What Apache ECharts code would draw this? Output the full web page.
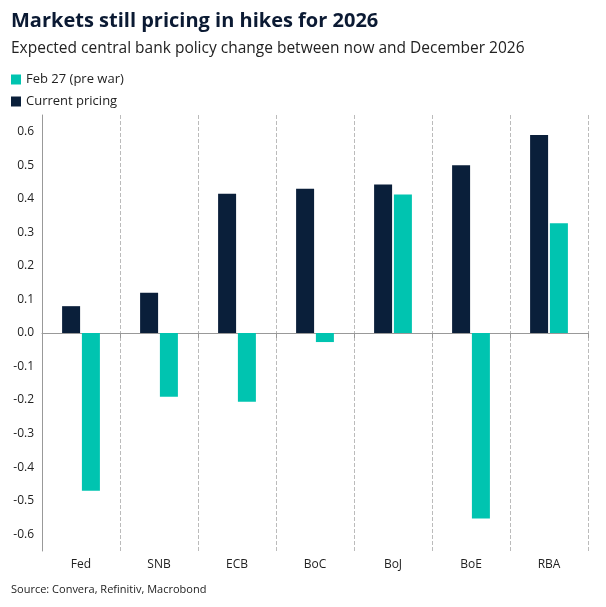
<!DOCTYPE html>
<html><head><meta charset="utf-8">
<script src="https://cdn.jsdelivr.net/npm/echarts@6/dist/echarts.min.js"></script>
<style>html,body{margin:0;padding:0;background:#fff}#c{width:606px;height:607px}</style>
</head><body><div id="c"></div>
<script>
const categories = ['Fed','SNB','ECB','BoC','BoJ','BoE','RBA'];
const currentPricing = [0.08,0.12,0.415,0.43,0.443,0.50,0.59];
const preWar = [-0.47,-0.19,-0.205,-0.027,0.413,-0.553,0.327];
const chart = echarts.init(document.getElementById('c'));
const font = "'Open Sans', 'Noto Sans', sans-serif";
chart.setOption({
  animation:false,
  textStyle:{fontFamily:font},
  title:[
    {text:'Markets still pricing in hikes for 2026',left:6,top:6,textStyle:{fontSize:20,fontWeight:'bold',color:'#0b1a33',fontFamily:font}},
    {text:'Expected central bank policy change between now and December 2026',left:6,top:36,textStyle:{fontSize:15.5,fontWeight:'normal',color:'#222',fontFamily:font}},
    {text:'Source: Convera, Refinitiv, Macrobond',left:6,top:579,textStyle:{fontSize:11,fontWeight:'normal',color:'#222',fontFamily:font}}
  ],
  legend:{orient:'vertical',left:6,top:68,itemWidth:10,itemHeight:10,itemGap:9,icon:'rect',
    textStyle:{fontSize:13,color:'#222',fontFamily:font},
    data:['Feb 27 (pre war)','Current pricing']},
  grid:{left:42,right:18,top:115,bottom:56},
  xAxis:{type:'category',data:categories,
    axisLine:{lineStyle:{color:'#999'}},
    axisTick:{show:true,alignWithLabel:false,lineStyle:{color:'#999'}},
    axisLabel:{color:'#222',fontSize:12,margin:8},
    splitLine:{show:true,lineStyle:{color:'#bbb',type:'dashed'}}},
  yAxis:{type:'value',min:-0.65,max:0.65,interval:0.05,
    axisLine:{show:true,lineStyle:{color:'#999'}},
    axisTick:{show:false},splitLine:{show:false},
    axisLabel:{color:'#222',fontSize:12,formatter:v=>{const k=Math.round(v*100);return (Math.abs(k)%10===0)?(k/100).toFixed(1):'';}}},
  series:[
    {name:'Current pricing',type:'bar',data:currentPricing,barWidth:18,barGap:'10%',itemStyle:{color:'#0a1f3a'}},
    {name:'Feb 27 (pre war)',type:'bar',data:preWar,barWidth:18,itemStyle:{color:'#00c4b0'}}
  ]
});
</script></body></html>
